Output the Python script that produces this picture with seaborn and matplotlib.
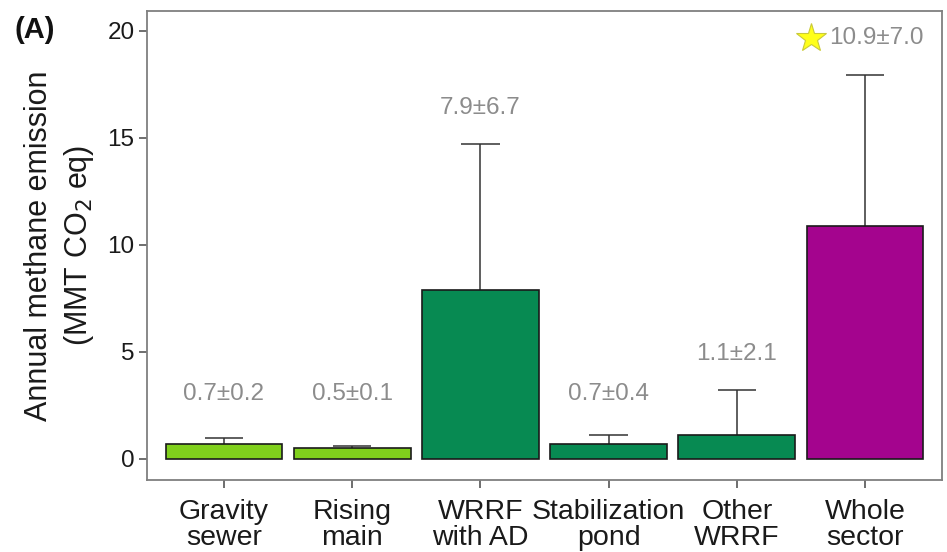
import numpy as np
import pandas as pd
import seaborn as sns
import matplotlib
matplotlib.use('Agg')
import matplotlib.pyplot as plt

# data
categories = ['Gravity\nsewer', 'Rising\nmain', 'WRRF\nwith AD', 'Stabilization\npond', 'Other\nWRRF', 'Whole\nsector']
means = [0.7, 0.5, 7.9, 0.7, 1.1, 10.9]
errs = [0.25, 0.1, 6.8, 0.4, 2.1, 7.05]
labels = ['0.7±0.2', '0.5±0.1', '7.9±6.7', '0.7±0.4', '1.1±2.1', '10.9±7.0']
colors = ['#80D01C', '#80D01C', '#078A52', '#078A52', '#078A52', '#A4048E']

df = pd.DataFrame({'cat': categories, 'mean': means})

sns.set_theme(style='white')
plt.rcParams['font.family'] = ['Liberation Sans', 'DejaVu Sans']

fig = plt.figure(figsize=(9.47, 5.52), dpi=100)
ax = fig.add_axes([147/947, 1-480/552, 795/947, 469/552])

sns.barplot(data=df, x='cat', y='mean', hue='cat', palette=colors, legend=False,
            saturation=1, width=0.91, edgecolor='#1a1a1a', linewidth=1.2, ax=ax, zorder=3)

xs = np.arange(len(categories))
tops = np.array(means) + np.array(errs)
ax.vlines(xs, means, tops, color='#333333', linewidth=1.1, zorder=2)
ax.hlines(tops, xs - 0.15, xs + 0.15, color='#333333', linewidth=1.1, zorder=2)

grey = '#8c8c8c'
for i, (t, lab) in enumerate(zip(tops, labels)):
    ly = max(t + 1.7, 3.0)
    if i == len(categories) - 1:
        ax.plot(i - 0.42, ly, marker='*', markersize=22, color='#FFFF1A',
                markeredgecolor='#C9C93A', markeredgewidth=0.8, zorder=4, clip_on=False)
        ax.text(i - 0.28, ly, lab, ha='left', va='center', fontsize=17.5, color=grey)
    else:
        ax.text(i, ly, lab, ha='center', va='center', fontsize=17.5, color=grey)

ax.set_xlim(-0.6, 5.6)
ax.set_ylim(-1.0, 20.93)
ax.set_yticks([0, 5, 10, 15, 20])
ax.set_xlabel('')
ax.set_ylabel('Annual methane emission\n(MMT CO$_2$ eq)', fontsize=22, color='#1a1a1a',
              linespacing=1.35, labelpad=8)

for s in ax.spines.values():
    s.set_visible(True)
    s.set_color('#7f7f7f')
    s.set_linewidth(1.3)
ax.tick_params(axis='both', which='both', length=6, width=1.2, color='#555555',
               bottom=True, left=True)
ax.tick_params(axis='y', labelsize=17.5, labelcolor='#1a1a1a', pad=3)
ax.tick_params(axis='x', labelsize=20.5, labelcolor='#1a1a1a', pad=8)
for t in ax.get_xticklabels():
    t.set_linespacing(1.0)

fig.text(15/947, 1-30/552, '(A)', fontsize=21, fontweight='bold', va='center', ha='left',
         color='#111111')

fig.savefig('out.png', dpi=100)
